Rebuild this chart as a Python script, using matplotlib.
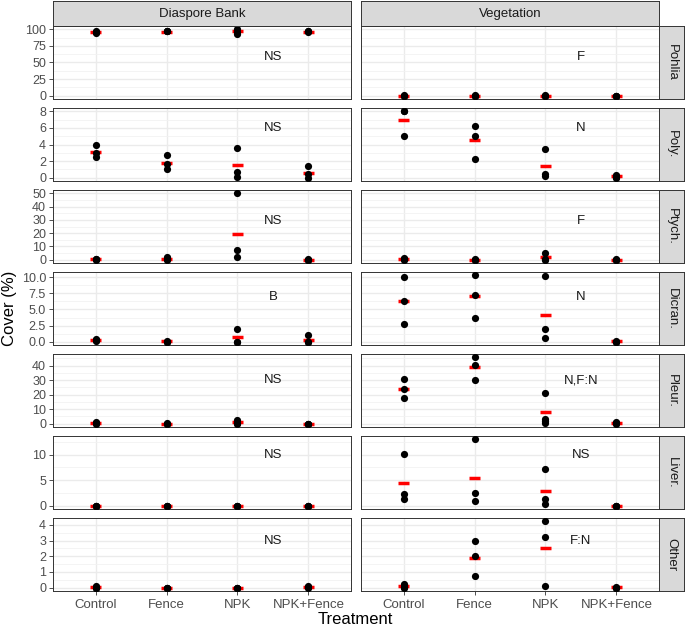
import matplotlib
matplotlib.use("Agg")
import matplotlib.pyplot as plt
import numpy as np
from matplotlib.ticker import MultipleLocator, FormatStrFormatter

plt.rcParams["font.family"] = ["Liberation Sans", "DejaVu Sans"]

# ───────────────────────────── data ─────────────────────────────
TREATMENTS = ["Control", "Fence", "NPK", "NPK+Fence"]
SOURCES = ["Diaspore Bank", "Vegetation"]
TAXA = ["Pohlia", "Poly.", "Ptych.", "Dicran.", "Pleur.", "Liver.", "Other"]

# replicate cover values: [diaspore bank, vegetation] x treatment
pohlia_pts = [[[95, 96, 97], [97, 97, 98], [100, 96, 93], [96, 97, 97]],
              [[0.5, 0, 0], [0.3, 0, 0], [0.3, 0, 0], [0.2, 0, 0]]]
poly_pts = [[[4.0, 3.0, 2.5], [2.7, 1.7, 1.1], [3.6, 0.7, 0.1], [1.35, 0.5, 0.0]],
            [[8.0, 8.0, 5.0], [6.25, 5.0, 2.2], [3.5, 0.5, 0.2], [0.3, 0.1, 0.0]]]
ptych_pts = [[[0.5, 0.2, 0], [2.0, 0.3, 0], [50, 7, 1.8], [0.3, 0, 0]],
             [[1.0, 0.3, 0], [0.3, 0, 0], [5.2, 0.3, 0], [0.2, 0, 0]]]
dicran_pts = [[[0.4, 0.3, 0.1], [0.1, 0, 0], [2.0, 0, 0], [1.0, 0, 0]],
              [[10.0, 6.3, 2.7], [10.3, 7.2, 3.75], [10.15, 2.0, 0.5], [0.1, 0, 0]]]
pleur_pts = [[[1.5, 0.3, 0], [0.3, 0, 0], [2.2, 0.5, 0], [0, 0, 0]],
             [[30.7, 23.6, 18.0], [45.7, 40.2, 30.2], [21.4, 3.2, 1.8, 0.5], [1.4, 0.5, 0]]]
liver_pts = [[[0, 0, 0], [0, 0, 0], [0, 0, 0], [0, 0, 0]],
             [[10.1, 2.3, 1.3], [13.0, 2.4, 1.0], [7.2, 1.3, 0.25], [0, 0, 0]]]
other_pts = [[[0.1, 0, 0], [0, 0, 0], [0, 0, 0], [0.1, 0.05, 0]],
             [[0.25, 0.05, 0], [3.0, 2.0, 0.75], [4.23, 3.24, 0.1], [0.05, 0, 0]]]

# treatment means (red bars)
pohlia_mean = [[95.5, 96.5, 97.5, 96.5], [0.2, 0.1, 0.1, 0.1]]
poly_mean = [[3.15, 1.8, 1.47, 0.6], [7.0, 4.5, 1.4, 0.15]]
ptych_mean = [[0.3, 0.8, 19.6, 0.1], [0.4, 0.1, 1.8, 0.05]]
dicran_mean = [[0.27, 0.05, 0.67, 0.33], [6.3, 7.1, 4.2, 0.05]]
pleur_mean = [[0.6, 0.1, 0.9, 0.0], [24.1, 38.8, 8.2, 0.6]]
liver_mean = [[0.0, 0.0, 0.0, 0.0], [4.5, 5.45, 2.85, 0.0]]
other_mean = [[0.03, 0.0, 0.0, 0.05], [0.1, 1.92, 2.52, 0.03]]

# significance labels
BANK_LABELS = ["NS", "NS", "NS", "B", "NS", "NS", "NS"]
VEG_LABELS = ["F", "N", "F", "N", "N,F:N", "NS", "F:N"]
LABEL_Y = [58, 6, 29.5, 7, 30, 10, 3]

Y_STEP = [25, 2, 10, 2.5, 10, 5, 1]
Y_FMT = ["%d", "%d", "%d", "%.1f", "%d", "%d", "%d"]

POINTS = [pohlia_pts, poly_pts, ptych_pts, dicran_pts, pleur_pts, liver_pts, other_pts]
MEANS = [pohlia_mean, poly_mean, ptych_mean, dicran_mean, pleur_mean, liver_mean, other_mean]

# ──────────────────────────── layout ────────────────────────────
W, H = 685, 628
COL_X = [53, 361]
PANEL_W = 298
ROW_Y = [26, 108, 190, 272, 354, 436, 518]
PANEL_H = 73
BORDER = "#333333"


def px_axes(fig, x, y, w, h):
    return fig.add_axes([x / W, 1 - (y + h) / H, w / W, h / H])


def strip(ax, text, rotation=0):
    ax.set_facecolor("#D9D9D9")
    ax.set_xticks([])
    ax.set_yticks([])
    for s in ax.spines.values():
        s.set_color(BORDER)
        s.set_linewidth(0.7)
    ax.text(0.5, 0.5, text, ha="center", va="center", rotation=rotation,
            fontsize=9.5, color="#1A1A1A", transform=ax.transAxes)


fig = plt.figure(figsize=(W / 100, H / 100), dpi=100)

for r, taxon in enumerate(TAXA):
    pts = POINTS[r]
    allv = [v for grp in pts for tr in grp for v in tr] + [0]
    lo, hi = min(allv), max(allv)
    pad = 0.05 * (hi - lo)
    for c, src in enumerate(SOURCES):
        ax = px_axes(fig, COL_X[c], ROW_Y[r], PANEL_W, PANEL_H)
        ax.set_xlim(0.4, 4.6)
        ax.set_ylim(lo - pad, hi + pad)
        ax.set_facecolor("white")
        ax.set_axisbelow(True)
        ax.yaxis.set_major_locator(MultipleLocator(Y_STEP[r]))
        ax.yaxis.set_minor_locator(MultipleLocator(Y_STEP[r] / 2))
        ax.yaxis.set_major_formatter(FormatStrFormatter(Y_FMT[r]))
        ax.set_xticks(range(1, 5))
        ax.grid(which="major", color="#EBEBEB", lw=1.0)
        ax.grid(which="minor", axis="y", color="#F2F2F2", lw=0.6)
        for s in ax.spines.values():
            s.set_color(BORDER)
            s.set_linewidth(0.7)

        for i in range(4):
            ax.hlines(MEANS[r][c][i], i + 1 - 0.08, i + 1 + 0.08,
                      color="#FF0000", lw=2.5, zorder=3)
            vals = pts[c][i]
            ax.scatter([i + 1] * len(vals), vals, s=27, color="black",
                       zorder=4, linewidths=0)

        lab = BANK_LABELS[r] if c == 0 else VEG_LABELS[r]
        ax.text(3.5, LABEL_Y[r], lab, ha="center", va="center",
                fontsize=9.5, color="#1A1A1A")

        ax.tick_params(which="minor", length=0)
        ax.tick_params(which="major", length=3, width=0.6, color=BORDER,
                       labelcolor="#4D4D4D", pad=2)
        ax.tick_params(axis="y", labelsize=9)
        ax.tick_params(axis="x", labelsize=9.5, pad=2.5)
        if c == 1:
            ax.tick_params(axis="y", left=False, labelleft=False)
        if r < len(TAXA) - 1:
            ax.tick_params(axis="x", bottom=False, labelbottom=False)
        else:
            ax.set_xticklabels(TREATMENTS)

        if r == 0:
            strip(px_axes(fig, COL_X[c], 1, PANEL_W, 25), src)

    strip(px_axes(fig, 659, ROW_Y[r], 25, PANEL_H), taxon, rotation=-90)

fig.text(10 / W, 1 - 308 / H, "Cover (%)", rotation=90, ha="center",
         va="center", fontsize=12)
fig.text(355 / W, 1 - 620 / H, "Treatment", ha="center", va="center",
         fontsize=12)

fig.savefig("out.png", dpi=100)
